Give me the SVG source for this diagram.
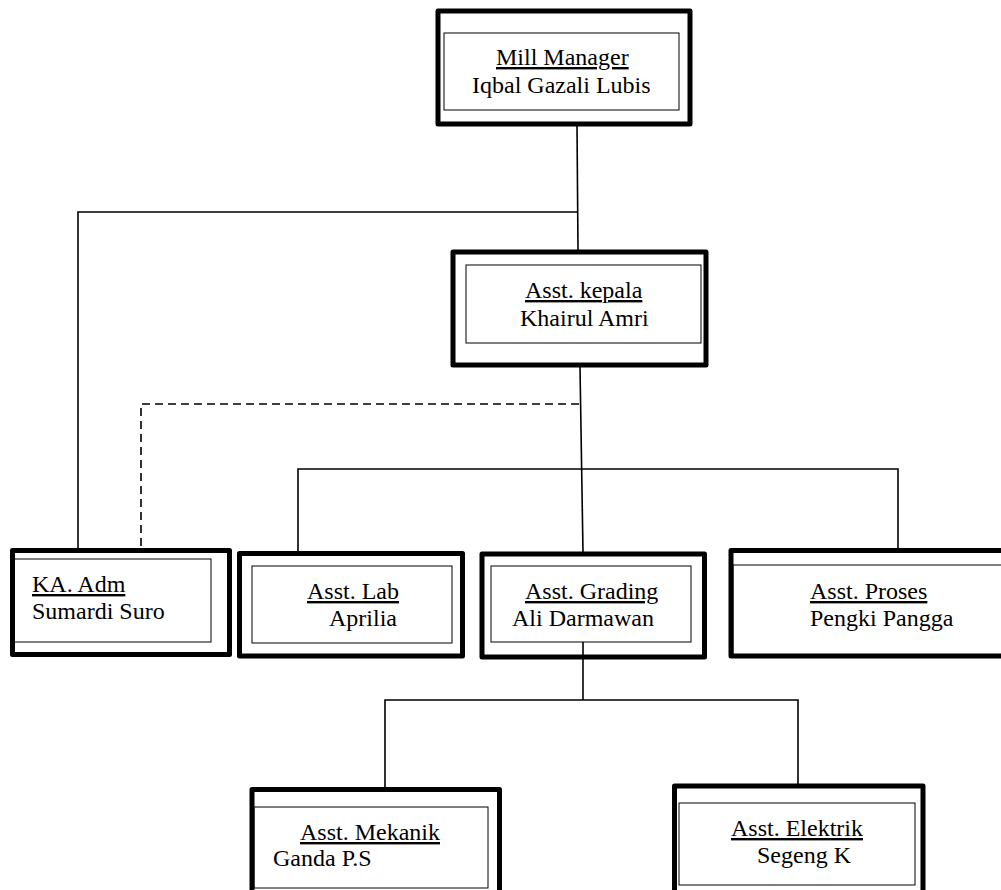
<svg xmlns="http://www.w3.org/2000/svg" width="1001" height="890" viewBox="0 0 1001 890">
<style>
.outer{fill:none;stroke:#000;stroke-width:5;stroke-linejoin:round}
.inner{fill:none;stroke:#000;stroke-width:1}
.t{font-family:"Liberation Serif","Times New Roman",serif;font-size:24px;fill:#000}
.u{text-decoration:underline}
.c{fill:none;stroke:#000;stroke-width:1.6}
.d{fill:none;stroke:#000;stroke-width:1.6;stroke-dasharray:8 5}
</style>
<rect width="1001" height="890" fill="#fff"/>
<g id="connectors">
<polyline class="c" points="577,126 578,250"/>
<polyline class="c" points="578,212 78,212 78,548"/>
<polyline class="d" points="579,404 141,404 141,548"/>
<polyline class="c" points="580,367 583,552"/>
<polyline class="c" points="298,551 298,469 898,469 898,548"/>
<polyline class="c" points="583,642 583,700"/>
<polyline class="c" points="385,787 385,700 798,700 798,784"/>
</g>
<g id="mill-manager">
<rect class="outer" x="438" y="11" width="252" height="113"/>
<rect class="inner" x="444" y="33" width="235" height="77"/>
<text class="t u" x="496" y="65">Mill Manager</text>
<text class="t" x="472" y="93">Iqbal Gazali Lubis</text>
</g>
<g id="asst-kepala">
<rect class="outer" x="453" y="252" width="253" height="113"/>
<rect class="inner" x="466" y="265" width="235" height="78"/>
<text class="t u" x="525" y="298">Asst. kepala</text>
<text class="t" x="520" y="326">Khairul Amri</text>
</g>
<g id="ka-adm">
<rect class="outer" x="12.5" y="550.5" width="217" height="104"/>
<rect class="inner" x="14" y="559" width="197" height="83"/>
<text class="t u" x="32" y="592">KA. Adm</text>
<text class="t" x="32" y="619">Sumardi Suro</text>
</g>
<g id="asst-lab">
<rect class="outer" x="239.5" y="553.5" width="223" height="102.5"/>
<rect class="inner" x="252" y="566" width="200" height="77"/>
<text class="t u" x="307" y="599">Asst. Lab</text>
<text class="t" x="329" y="626">Aprilia</text>
</g>
<g id="asst-grading">
<rect class="outer" x="482" y="554" width="222.5" height="103"/>
<rect class="inner" x="491" y="566" width="200" height="76"/>
<text class="t u" x="525" y="599">Asst. Grading</text>
<text class="t" x="512" y="626">Ali Darmawan</text>
</g>
<g id="asst-proses">
<rect class="outer" x="731" y="550.5" width="290" height="105.5"/>
<rect class="inner" x="733" y="565" width="300" height="90"/>
<text class="t u" x="810" y="599">Asst. Proses</text>
<text class="t" x="810" y="626">Pengki Pangga</text>
</g>
<g id="asst-mekanik">
<rect class="outer" x="252" y="789.5" width="247.5" height="120"/>
<rect class="inner" x="254" y="807" width="234" height="81"/>
<text class="t u" x="300" y="840">Asst. Mekanik</text>
<text class="t" x="273" y="866">Ganda P.S</text>
</g>
<g id="asst-elektrik">
<rect class="outer" x="674.5" y="786" width="248.5" height="120"/>
<rect class="inner" x="679" y="803" width="236" height="82"/>
<text class="t u" x="731" y="836">Asst. Elektrik</text>
<text class="t" x="757" y="863">Segeng K</text>
</g>
</svg>
